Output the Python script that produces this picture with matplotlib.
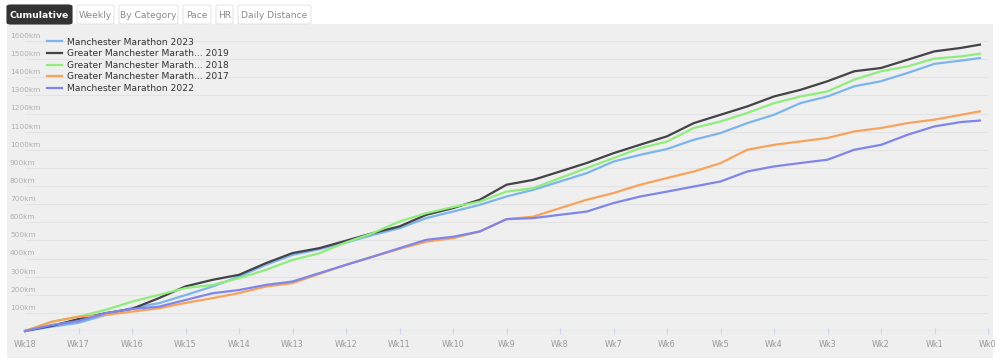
import matplotlib
matplotlib.use("Agg")
import matplotlib.pyplot as plt
from matplotlib.patches import Rectangle, FancyBboxPatch
import matplotlib.transforms as mtransforms

W, H = 1000, 363

# ---- data ----
weeks = [-18, -17.5, -17, -16.5, -16, -15.5, -15, -14.5, -14, -13.5, -13, -12.5, -12,
         -11.5, -11, -10.5, -10, -9.5, -9, -8.5, -8, -7.5, -7, -6.5, -6, -5.5, -5,
         -4.5, -4, -3.5, -3, -2.5, -2, -1.5, -1, -0.5, -0.15]
week_labels = ["Wk18", "Wk17", "Wk16", "Wk15", "Wk14", "Wk13", "Wk12", "Wk11", "Wk10",
               "Wk9", "Wk8", "Wk7", "Wk6", "Wk5", "Wk4", "Wk3", "Wk2", "Wk1", "Wk0"]
week_ticks = list(range(-18, 1))

series_names = ["Manchester Marathon 2023", "Greater Manchester Marath... 2019",
                "Greater Manchester Marath... 2018", "Greater Manchester Marath... 2017",
                "Manchester Marathon 2022"]
mm2023 = [0, 24, 45, 88, 127, 153, 198, 245, 300, 365, 420, 451, 488, 530, 567, 623, 659,
          696, 742, 779, 825, 871, 935, 972, 1004, 1055, 1092, 1147, 1193, 1258, 1294,
          1350, 1378, 1424, 1474, 1492, 1506]
gmm2019 = [0, 28, 66, 98, 122, 181, 246, 282, 310, 374, 430, 457, 498, 540, 577, 641, 678,
           724, 807, 834, 880, 927, 981, 1028, 1074, 1147, 1193, 1239, 1294, 1331, 1378,
           1433, 1451, 1497, 1543, 1562, 1580]
gmm2018 = [0, 51, 79, 116, 162, 199, 237, 254, 291, 337, 392, 429, 489, 540, 604, 650, 684,
           714, 769, 788, 844, 899, 954, 1009, 1045, 1120, 1156, 1203, 1257, 1294, 1322,
           1387, 1433, 1460, 1503, 1515, 1530]
gmm2017 = [0, 51, 79, 88, 107, 125, 155, 181, 209, 245, 264, 315, 365, 410, 453, 493, 512,
           549, 617, 631, 678, 724, 761, 807, 844, 880, 926, 1000, 1027, 1046, 1065,
           1101, 1120, 1147, 1166, 1193, 1212]
mm2022 = [0, 33, 55, 98, 122, 134, 171, 208, 226, 254, 273, 319, 365, 410, 457, 503, 520,
          549, 617, 623, 641, 659, 706, 742, 769, 797, 825, 880, 908, 927, 945,
          1000, 1027, 1083, 1129, 1153, 1161]
series = [mm2023, gmm2019, gmm2018, gmm2017, mm2022]
colors = ["#7cb5ec", "#434348", "#90ed7d", "#f7a35c", "#8085e9"]

ytick_vals = [100, 200, 300, 400, 500, 600, 700, 800, 900, 1000, 1100, 1200, 1300, 1400, 1500, 1600]

tabs = ["Cumulative", "Weekly", "By Category", "Pace", "HR", "Daily Distance"]
tab_x = [(7, 72), (77, 114), (119, 178), (183, 211), (216, 233), (238, 311)]

# ---- figure ----
fig = plt.figure(figsize=(W / 100, H / 100), dpi=100)
fig.patch.set_facecolor("white")

def fx(px):
    return px / W

def fy(py):
    return 1 - py / H

# panel background
fig.patches.append(Rectangle((fx(7), fy(358)), fx(993) - fx(7), fy(24) - fy(358),
                             transform=fig.transFigure, facecolor="#efefef",
                             edgecolor="none", zorder=-5))

# tabs
for i, (name, (x0, x1)) in enumerate(zip(tabs, tab_x)):
    active = i == 0
    fig.patches.append(FancyBboxPatch((fx(x0), fy(24)), fx(x1) - fx(x0), fy(5) - fy(24),
                                      boxstyle="round,pad=0,rounding_size=0.004",
                                      transform=fig.transFigure,
                                      facecolor="#333333" if active else "white",
                                      edgecolor="#333333" if active else "#e6e6e6",
                                      linewidth=0.8, zorder=-4))
    fig.text(fx((x0 + x1) / 2), fy(15), name, ha="center", va="center",
             fontsize=6.7 if active else 6.6,
             fontweight="bold" if active else "normal",
             color="white" if active else "#8a8a8a", family="DejaVu Sans")

# axes
left, right = 25, 988
top, bottom = 41, 331
ax = fig.add_axes([fx(left), fy(bottom), fx(right) - fx(left), fy(top) - fy(bottom)])
ax.set_zorder(2)
ax.set_facecolor("none")
ax.patch.set_alpha(0)
ax.set_xlim(-18, 0)
ax.set_ylim(0, 1600)
for s in ax.spines.values():
    s.set_visible(False)

# gridlines
for v in ytick_vals:
    ax.axhline(v, color="#e3e3e3", linewidth=0.8, zorder=1)
ax.axhline(0, color="#ccd6eb", linewidth=1.0, zorder=1)

# y labels above gridlines
trans = mtransforms.blended_transform_factory(fig.transFigure, ax.transData)
off = mtransforms.ScaledTranslation(0, 1.5 / 72, fig.dpi_scale_trans)
for v in ytick_vals:
    ax.text(fx(10), v, f"{v}km", fontsize=5.3, color="#b0b0b0",
            ha="left", va="bottom", transform=trans + off, clip_on=False)

# x ticks
ax.set_xticks(week_ticks)
ax.set_xticklabels(week_labels, fontsize=5.8, color="#999999")
ax.tick_params(axis="x", length=5, width=0.8, color="#ccd6eb", pad=4, direction="inout")
ax.set_yticks([])

# lines
for name, vals, c in zip(series_names, series, colors):
    ax.plot(weeks, vals, color=c, linewidth=1.6, label=name, clip_on=False, zorder=3,
            solid_joinstyle="round")

leg = ax.legend(loc="upper left", bbox_to_anchor=(fx(44) - fx(left), 1.0 + (41 - 34) / (bottom - top)),
                frameon=False, fontsize=6.6, handlelength=1.6, handletextpad=0.6,
                labelspacing=0.28, borderaxespad=0)
for t in leg.get_texts():
    t.set_color("#333333")

fig.savefig("out.png", dpi=100, facecolor="white")
